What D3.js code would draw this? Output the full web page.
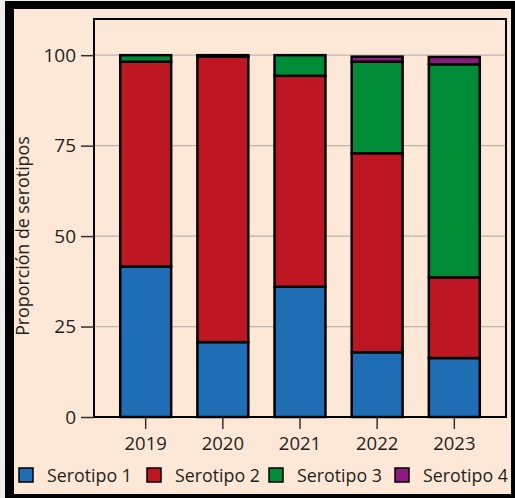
<!DOCTYPE html>
<html>
<head>
<meta charset="utf-8">
<script src="https://cdn.jsdelivr.net/npm/d3@7"></script>
<style>
  body { margin: 0; background: #ededed; }
  svg { display: block; }
  text { font-family: "Open Sans", "DejaVu Sans", sans-serif; fill: #231f20; }
</style>
</head>
<body>
<div id="chart"></div>
<script>
var years = ["2019", "2020", "2021", "2022", "2023"];
var serotipos = ["Serotipo 1", "Serotipo 2", "Serotipo 3", "Serotipo 4"];
var sero1 = [41.6, 20.7, 36.0, 17.9, 16.3];
var sero2 = [56.6, 78.9, 58.3, 55.0, 22.3];
var sero3 = [1.8, 0.2, 5.7, 25.3, 58.9];
var sero4 = [0, 0.2, 0, 1.4, 2.0];
var yTicks = [0, 25, 50, 75, 100];
var colors = ["#1f6db5", "#be1622", "#008c36", "#8e1a80"];

var W = 515, H = 498;
var plot = {left: 94, top: 19, right: 506, bottom: 417};

var svg = d3.select("#chart").append("svg")
    .attr("width", W)
    .attr("height", H);

// frame
svg.append("rect").attr("x", 5).attr("y", 1).attr("width", W - 5).attr("height", H - 1).attr("fill", "#000");
svg.append("rect").attr("x", 14).attr("y", 9).attr("width", 511 - 14).attr("height", 494 - 9).attr("fill", "#fde7d6");

var table = years.map(function(y, i) {
    return {year: y, "Serotipo 1": sero1[i], "Serotipo 2": sero2[i], "Serotipo 3": sero3[i], "Serotipo 4": sero4[i]};
});
var stacked = d3.stack().keys(serotipos)(table);

var x = d3.scaleBand()
    .domain(years)
    .range([plot.left, plot.right])
    .padding(0.34);
var y = d3.scaleLinear()
    .domain([0, 110])
    .range([plot.bottom, plot.top]);

// grid
svg.append("g").selectAll("line")
    .data(yTicks.slice(1))
    .enter().append("line")
    .attr("x1", plot.left).attr("x2", plot.right)
    .attr("y1", function(d) { return y(d); })
    .attr("y2", function(d) { return y(d); })
    .attr("stroke", "#bdb6b0")
    .attr("stroke-width", 1.2);

// bars
svg.append("g").selectAll("g")
    .data(stacked)
    .enter().append("g")
    .attr("fill", function(d, i) { return colors[i]; })
    .selectAll("rect")
    .data(function(d) { return d; })
    .enter().append("rect")
    .attr("x", function(d) { return x(d.data.year); })
    .attr("width", x.bandwidth())
    .attr("y", function(d) { return y(d[1]); })
    .attr("height", function(d) { return y(d[0]) - y(d[1]); })
    .attr("stroke", "#000")
    .attr("stroke-width", 2.5);

// plot box
svg.append("rect")
    .attr("x", plot.left).attr("y", plot.top)
    .attr("width", plot.right - plot.left)
    .attr("height", plot.bottom - plot.top)
    .attr("fill", "none")
    .attr("stroke", "#000")
    .attr("stroke-width", 2);

// y axis
var yAxis = svg.append("g")
    .attr("transform", "translate(" + plot.left + ",0)")
    .call(d3.axisLeft(y).tickValues(yTicks).tickSize(13).tickPadding(5));
yAxis.select(".domain").remove();
yAxis.selectAll(".tick line").attr("stroke", "#333").attr("stroke-width", 1.5);
yAxis.selectAll(".tick text").attr("font-size", 19).attr("font-family", "Open Sans, sans-serif").attr("fill", "#231f20");

// x axis
var xAxis = svg.append("g")
    .attr("transform", "translate(0," + plot.bottom + ")")
    .call(d3.axisBottom(x).tickSize(12).tickPadding(8));
xAxis.select(".domain").remove();
xAxis.selectAll(".tick line").attr("stroke", "#333").attr("stroke-width", 1.5);
xAxis.selectAll(".tick text").attr("font-size", 18.5).attr("font-family", "Open Sans, sans-serif").attr("fill", "#231f20");

// y label
svg.append("text")
    .attr("transform", "rotate(-90)")
    .attr("x", -(y(0) + y(100)) / 2)
    .attr("y", 29)
    .attr("text-anchor", "middle")
    .attr("font-size", 17.8)
    .text("Proporción de serotipos");

// legend
var legendX = [19, 147, 269, 395];
var legend = svg.selectAll(".legend")
    .data(serotipos)
    .enter().append("g")
    .attr("class", "legend")
    .attr("transform", function(d, i) { return "translate(" + legendX[i] + ",468)"; });
legend.append("rect")
    .attr("width", 14).attr("height", 14)
    .attr("fill", function(d, i) { return colors[i]; })
    .attr("stroke", "#000")
    .attr("stroke-width", 1.5);
legend.append("text")
    .attr("x", 28)
    .attr("y", 14)
    .attr("font-size", 17.8)
    .text(function(d) { return d; });
</script>
</body>
</html>
